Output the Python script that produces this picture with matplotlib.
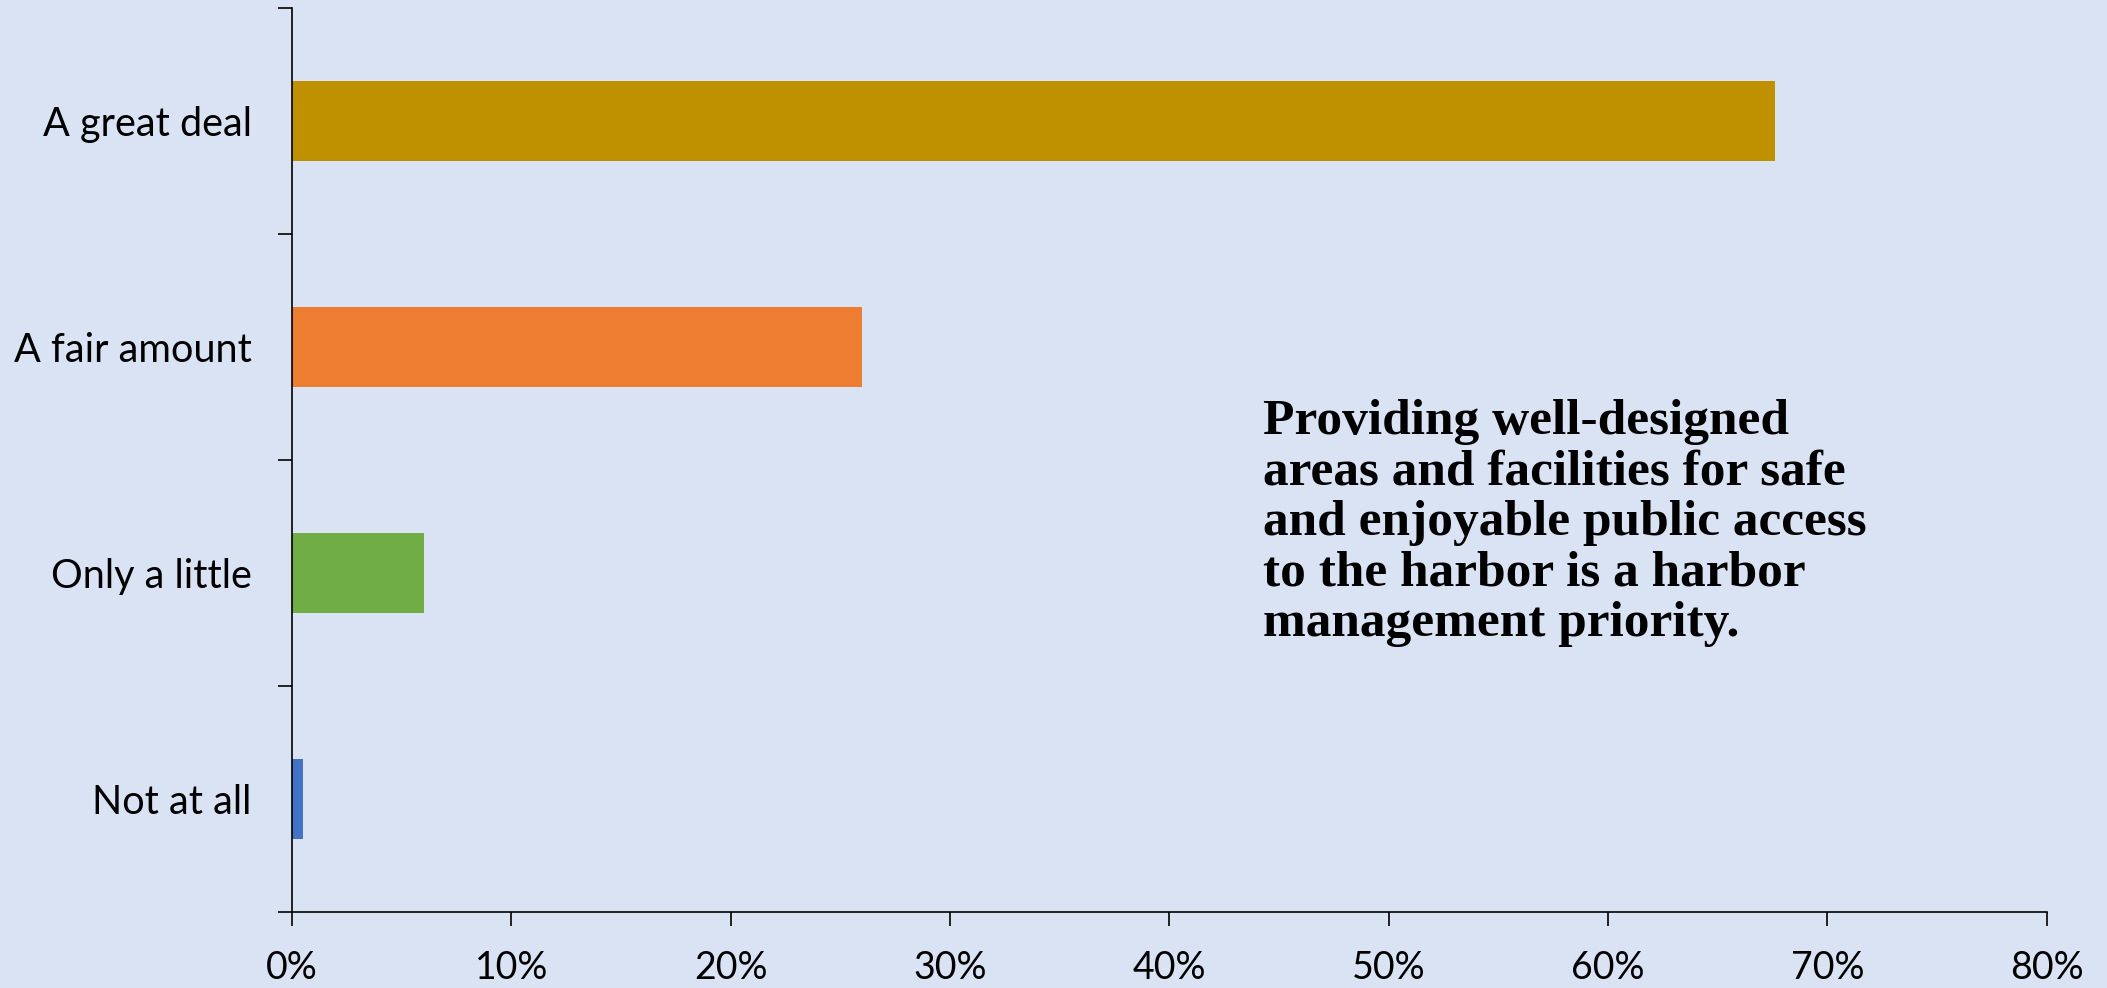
import numpy as np
import matplotlib.pyplot as plt
from matplotlib.ticker import PercentFormatter

categories = ["A great deal", "A fair amount", "Only a little", "Not at all"]
values = [67.6, 26.0, 6.0, 0.5]
colors = ["#BF9000", "#ED7D31", "#70AD47", "#4472C4"]
note = ("Providing well-designed\n"
        "areas and facilities for safe\n"
        "and enjoyable public access\n"
        "to the harbor is a harbor\n"
        "management priority.")

bg = "#DAE3F3"
fig = plt.figure(figsize=(21.07, 9.88), dpi=100, facecolor=bg)
ax = fig.add_axes([0.1386, 0.0769, 0.9714 - 0.1386, 0.9919 - 0.0769])
ax.set_facecolor(bg)

y = np.arange(len(categories))
ax.barh(y, values, height=0.355, color=colors)

ax.set_xlim(0, 80)
ax.set_ylim(len(categories) - 0.5, -0.5)
ax.set_xticks(np.arange(0, 81, 10))
ax.xaxis.set_major_formatter(PercentFormatter(decimals=0))

# ticks at category boundaries, labels in the middle
ax.set_yticks(np.arange(-0.5, len(categories), 1.0))
ax.set_yticklabels([])
ax.set_yticks(y, minor=True)
ax.set_yticklabels(categories, minor=True)
ax.tick_params(axis="y", which="minor", length=0, pad=29)
ax.tick_params(axis="both", which="major", length=10, width=1.2, color="black")
ax.tick_params(axis="x", pad=17)

for lab in ax.get_xticklabels():
    lab.set_fontfamily("Lato")
    lab.set_fontsize(27)
for lab in ax.get_yticklabels(minor=True):
    lab.set_fontfamily("Lato")
    lab.set_fontsize(28.5)

for s in ["top", "right"]:
    ax.spines[s].set_visible(False)
for s in ["left", "bottom"]:
    ax.spines[s].set_linewidth(1.2)

fig.text(1263 / 2107, 1 - 399 / 988, note, ha="left", va="top",
         fontfamily="Liberation Serif", fontweight="bold", fontsize=37,
         linespacing=1.13)

fig.savefig("out.png", dpi=100, facecolor=bg)
